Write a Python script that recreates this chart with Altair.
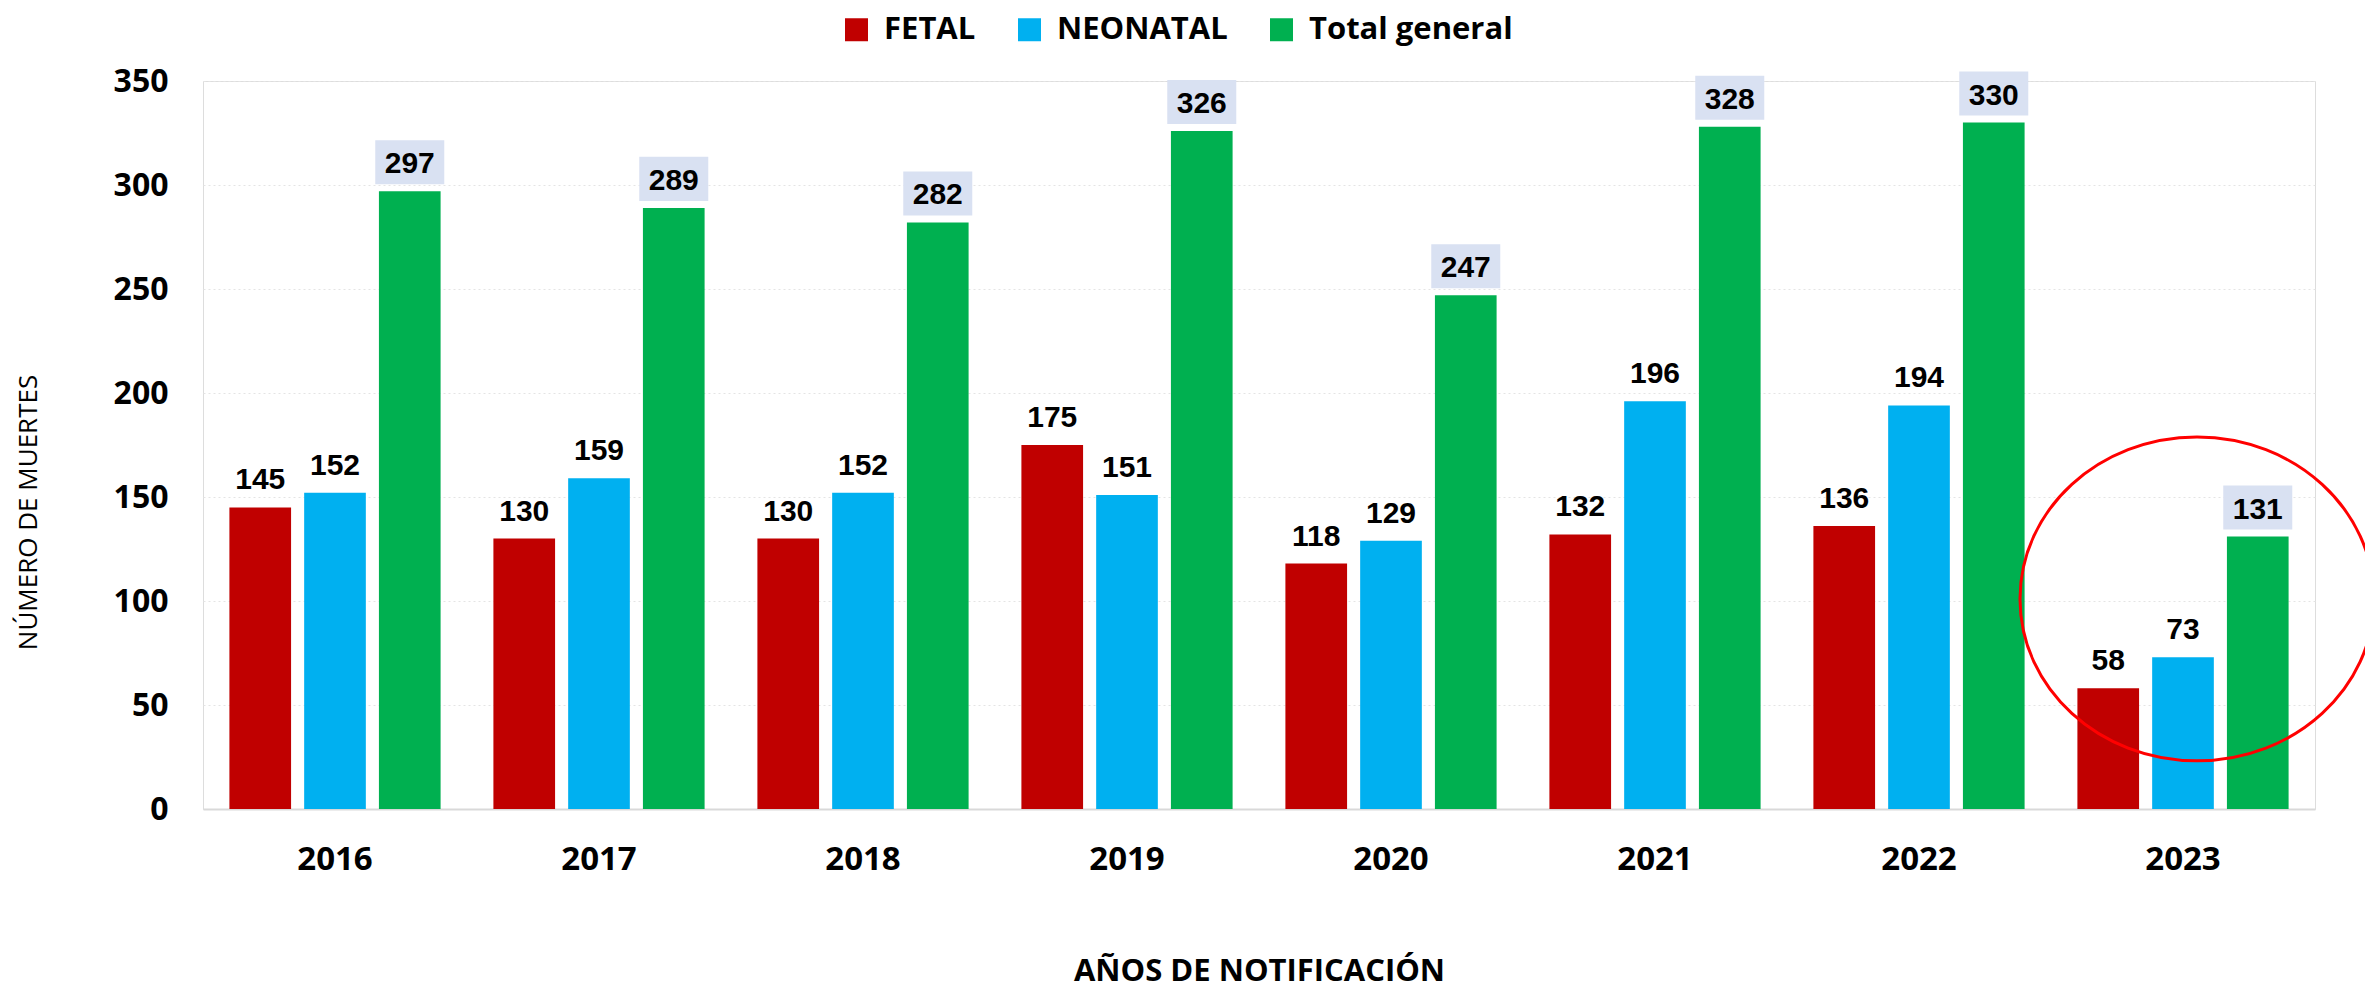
import altair as alt
import pandas as pd

years = ["2016", "2017", "2018", "2019", "2020", "2021", "2022", "2023"]
series = ["FETAL", "NEONATAL", "Total general"]
fetal = [145, 130, 130, 175, 118, 132, 136, 58]
neonatal = [152, 159, 152, 151, 129, 196, 194, 73]
total = [297, 289, 282, 326, 247, 328, 330, 131]
colors = ["#C00000", "#00B0F0", "#00B050"]

rows = []
for i, y in enumerate(years):
    rows.append({"year": y, "serie": "FETAL", "value": fetal[i]})
    rows.append({"year": y, "serie": "NEONATAL", "value": neonatal[i]})
    rows.append({"year": y, "serie": "Total general", "value": total[i]})
df = pd.DataFrame(rows)

# annotation ellipse around the last year
highlight = pd.DataFrame({"year": ["2023"], "value": [101]})

FONT = "Open Sans"

x_enc = alt.X(
    "year:N",
    sort=years,
    scale=alt.Scale(paddingInner=0.2, paddingOuter=0.1),
    axis=alt.Axis(
        title="AÑOS DE NOTIFICACIÓN",
        titleFont=FONT,
        titleFontSize=31,
        titleFontWeight="bold",
        titleColor="#000000",
        titleY=162,
        titleBaseline="middle",
        labelFont=FONT,
        labelFontSize=33,
        labelFontWeight="bold",
        labelColor="#000000",
        labelAngle=0,
        labelPadding=34,
        ticks=False,
        tickSize=0,
        domain=True,
        domainColor="#D9D9D9",
        domainWidth=2,
        grid=False,
    ),
)
y_enc = alt.Y(
    "value:Q",
    scale=alt.Scale(domain=[0, 350]),
    axis=alt.Axis(
        values=[0, 50, 100, 150, 200, 250, 300, 350],
        title="NÚMERO DE MUERTES",
        titleFont=FONT,
        titleFontSize=26,
        titleFontWeight=500,
        titleColor="#000000",
        titleX=-175,
        titleY=431,
        titleAngle=270,
        titleBaseline="middle",
        titleAlign="center",
        labelFont=FONT,
        labelFontSize=32,
        labelFontWeight="bold",
        labelColor="#000000",
        labelPadding=35,
        ticks=False,
        tickSize=0,
        domain=False,
        grid=True,
        gridColor="#E4E4E4",
        gridDash=[2, 3],
        gridWidth=1,
    ),
)
xoff = alt.XOffset(
    "serie:N", sort=series, scale=alt.Scale(paddingInner=0.175, paddingOuter=0)
)

bars = alt.Chart(df).mark_bar().encode(
    x=x_enc,
    y=y_enc,
    xOffset=xoff,
    color=alt.Color(
        "serie:N",
        sort=series,
        scale=alt.Scale(domain=series, range=colors),
        legend=alt.Legend(
            title=None,
            orient="none",
            legendX=638,
            legendY=-67,
            direction="horizontal",
            symbolType="square",
            symbolSize=529,
            symbolStrokeWidth=0,
            labelFont=FONT,
            labelFontSize=31,
            labelFontWeight="bold",
            labelColor="#000000",
            labelLimit=1000,
            labelOffset=12,
            columnPadding=38,
            padding=0,
        ),
    ),
)

boxes = (
    alt.Chart(df)
    .transform_filter(alt.datum.serie == "Total general")
    .mark_point(
        shape="M-1,-0.638H1V0.638H-1Z",
        size=4761,
        filled=True,
        opacity=1,
        color="#D9E1F2",
        strokeWidth=0,
        yOffset=-29,
    )
    .encode(x=alt.X("year:N", sort=years), y="value:Q", xOffset=xoff)
)

labels = alt.Chart(df).mark_text(
    font="Liberation Sans",
    fontSize=30,
    fontWeight="bold",
    color="#000000",
    baseline="alphabetic",
    dy=-18,
).encode(
    x=alt.X("year:N", sort=years),
    y="value:Q",
    xOffset=xoff,
    text="value:Q",
)

ellipse = alt.Chart(highlight).mark_point(
    shape="M-1,0A1,0.915 0 1,1 1,0A1,0.915 0 1,1 -1,0Z",
    size=354 * 354,
    filled=False,
    stroke="#FF0000",
    strokeWidth=3,
    opacity=1,
    xOffset=14,
).encode(x=alt.X("year:N", sort=years), y="value:Q")

chart = (
    alt.layer(bars, boxes, labels, ellipse)
    .properties(
        width=2112,
        height=728,
        autosize=alt.AutoSizeParams(type="none"),
        padding={"left": 195, "top": 73, "right": 50, "bottom": 180},
    )
    .configure_view(strokeWidth=0, stroke="transparent")
    .configure(background="#FFFFFF")
)

chart.save("out.html", embed_options={"renderer": "svg", "actions": False})
